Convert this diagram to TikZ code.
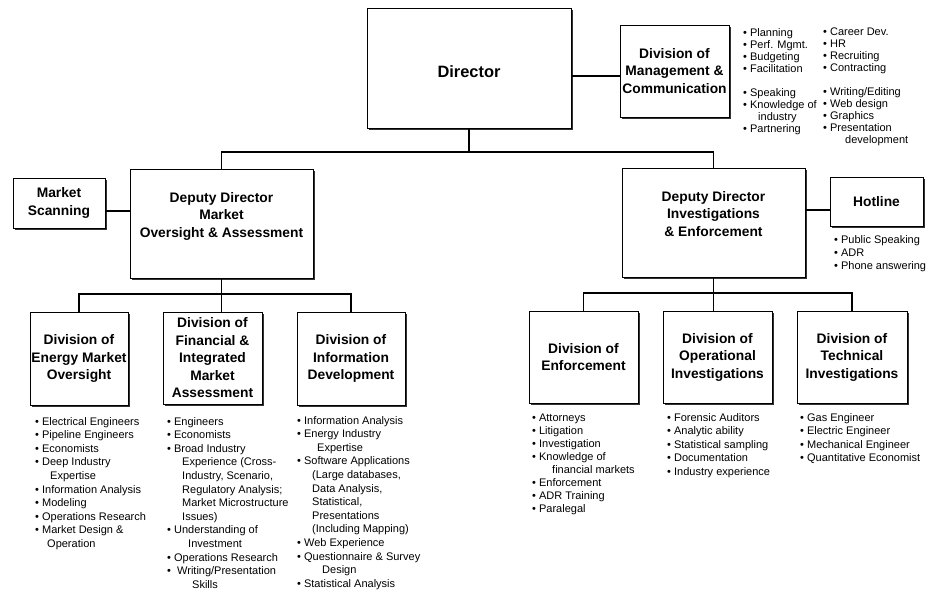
\documentclass[tikz,border=0pt]{standalone}
\usepackage{fontspec}
\setmainfont{Liberation Sans}
\usetikzlibrary{shadows}
\newcommand{\bul}{\textbullet\ }
\newcommand{\indnt}{\hspace*{15pt}}
\tikzset{
  box/.style={draw, fill=white, line width=0.8pt, align=center, inner sep=1pt,
    font=\bfseries\fontsize{13.8}{17.5}\selectfont,
    drop shadow={shadow xshift=1.6pt, shadow yshift=-1.6pt, fill=black!80, opacity=1}},
  conn/.style={line width=1.6pt},
  list/.style={anchor=north west, align=left, inner sep=0pt,
    font=\fontsize{11}{13.6}\selectfont},
}

\begin{document}
\begin{tikzpicture}[x=1pt, y=-1pt]
  \useasboundingbox (0,0) rectangle (935,592);
  %%%%% TOP %%%%%
  \node[box, minimum width=204pt, minimum height=120pt,
        font=\bfseries\fontsize{16.4}{20}\selectfont] (dir) at (469,68) {\mbox{}\\Director};
  \node[box, minimum width=109pt, minimum height=92pt] (mc) at (674.5,71)
    {Division of\\Management \&\\Communication};

  \node[list, font=\fontsize{11}{12}\selectfont] (mclista) at (743,28)
    {\bul Planning\\ \bul Perf. Mgmt.\\ \bul Budgeting\\ \bul Facilitation\\[12pt]
     \bul Speaking\\ \bul Knowledge of\\ \indnt industry\\ \bul Partnering};
  \node[list, font=\fontsize{11}{12}\selectfont] (mclistb) at (823,28)
    {\bul Career Dev.\\ \bul HR\\ \bul Recruiting\\ \bul Contracting\\[12pt]
     \bul Writing/Editing\\ \bul Web design\\ \bul Graphics\\ \bul Presentation\\
     \hspace*{22pt}development};

  %%%%% DEPUTIES %%%%%
  \node[box, minimum width=92pt, minimum height=50pt] (scan) at (59,203) {Market\\Scanning};
  \node[box, minimum width=183pt, minimum height=109pt] (ddm) at (221.5,223.5)
    {Deputy Director\\Market\\Oversight \& Assessment\\\mbox{}};
  \node[box, minimum width=183pt, minimum height=109pt] (ddi) at (713.5,222.5)
    {Deputy Director\\Investigations\\\& Enforcement\\\mbox{}};
  \node[box, minimum width=93pt, minimum height=49pt] (hot) at (876.5,201.5) {Hotline};
  \node[list, font=\fontsize{11}{13}\selectfont] (hotlist) at (834,235)
    {\bul Public Speaking\\ \bul ADR\\ \bul Phone answering};

  %%%%% DIVISIONS %%%%%
  \node[box, minimum width=98pt, minimum height=93pt] (energy) at (79,358.5)
    {Division of\\Energy Market\\Oversight};
  \node[box, minimum width=99pt, minimum height=92pt] (fin) at (212.5,358)
    {Division of\\Financial \&\\Integrated\\Market\\Assessment};
  \node[box, minimum width=108pt, minimum height=93pt] (info) at (351,358.5)
    {Division of\\Information\\Development};
  \node[box, minimum width=109pt, minimum height=92pt] (enf) at (583.5,357)
    {Division of\\Enforcement};
  \node[box, minimum width=109pt, minimum height=92pt] (ops) at (717.5,357)
    {Division of\\Operational\\Investigations};
  \node[box, minimum width=110pt, minimum height=92pt] (tech) at (852,357)
    {Division of\\Technical\\Investigations};

  \node[list] (energylist) at (35,417)
    {\bul Electrical Engineers\\ \bul Pipeline Engineers\\ \bul Economists\\
     \bul Deep Industry\\ \indnt Expertise\\ \bul Information Analysis\\ \bul Modeling\\
     \bul Operations Research\\ \bul Market Design \&\\ \hspace*{12pt}Operation};
  \node[list] (finlist) at (167,417)
    {\bul Engineers\\ \bul Economists\\ \bul Broad Industry\\ \indnt Experience (Cross-\\
     \indnt Industry, Scenario,\\ \indnt Regulatory Analysis;\\ \indnt Market Microstructure\\
     \indnt Issues)\\ \bul Understanding of\\ \hspace*{21pt}Investment\\
     \bul Operations Research\\ \bul\ Writing/Presentation\\ \hspace*{25pt}Skills};
  \node[list] (infolist) at (297,416)
    {\bul Information Analysis\\ \bul Energy Industry\\ \hspace*{20pt}Expertise\\
     \bul Software Applications\\ \indnt (Large databases,\\ \indnt Data Analysis,\\
     \indnt Statistical,\\ \indnt Presentations\\ \indnt (Including Mapping)\\
     \bul Web Experience\\ \bul Questionnaire \& Survey\\ \hspace*{25pt}Design\\
     \bul Statistical Analysis};
  \node[list, font=\fontsize{11}{13}\selectfont] (enflist) at (532,414)
    {\bul Attorneys\\ \bul Litigation\\ \bul Investigation\\ \bul Knowledge of\\
     \hspace*{20pt}financial markets\\ \bul Enforcement\\ \bul ADR Training\\ \bul Paralegal};
  \node[list] (opslist) at (667,413)
    {\bul Forensic Auditors\\ \bul Analytic ability\\ \bul Statistical sampling\\
     \bul Documentation\\ \bul Industry experience};
  \node[list] (techlist) at (800,413)
    {\bul Gas Engineer\\ \bul Electric Engineer\\ \bul Mechanical Engineer\\
     \bul Quantitative Economist};

  %%%%% CONNECTORS %%%%%
  \coordinate (bustop) at (469,152);
  \coordinate (busl) at (221.5,294);
  \coordinate (busr) at (713.5,293);
  \draw[conn] (dir.south) -- (bustop);
  \draw[conn] (ddm.north) |- (bustop) -| (ddi.north);
  \draw[conn] ([yshift=-8pt]dir.east) -- ([yshift=-8pt]dir.east -| mc.west);
  \draw[conn] ([yshift=-8pt]scan.east) -- ([yshift=-8pt]scan.east -| ddm.west);
  \draw[conn] ([yshift=-8.5pt]hot.west) -- ([yshift=-8.5pt]hot.west -| ddi.east);

  \draw[conn] (ddm.south) -- (busl |- fin.north);
  \draw[conn] (energy.north) |- (busl) -| (info.north);
  \draw[conn] (ddi.south) -- (busr |- ops.north);
  \draw[conn] (enf.north) |- (busr) -| (tech.north);
\end{tikzpicture}
\end{document}
